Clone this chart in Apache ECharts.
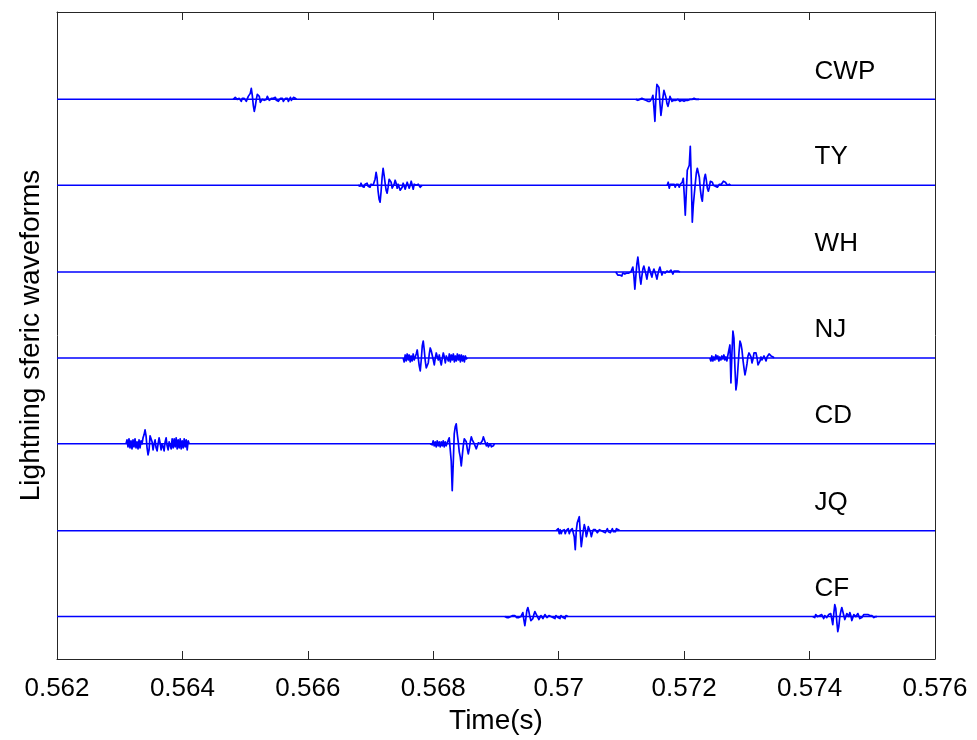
<!DOCTYPE html>
<html>
<head>
<meta charset="utf-8">
<script src="https://cdn.jsdelivr.net/npm/echarts@6/dist/echarts.min.js"></script>
<style>
  html, body { margin: 0; padding: 0; background: #fff; }
  #chart { width: 977px; height: 740px; }
</style>
</head>
<body>
<div id="chart"></div>
<script>
// Station names, top to bottom
const stations = ['CWP', 'TY', 'WH', 'NJ', 'CD', 'JQ', 'CF'];

// Time axis (s)
const timeMin = 0.562;
const timeMax = 0.576;
const timeStep = 0.002;

// Sample spacing of the recorded waveform bursts (s)
const sampleStep = 0.000016;

// Burst onset times (s) per station
const cwpOnsets = [0.56481, 0.57123];
const tyOnsets  = [0.56680, 0.57173];
const whOnsets  = [0.57091];
const njOnsets  = [0.56752, 0.57241];
const cdOnsets  = [0.56310, 0.56795];
const jqOnsets  = [0.56996];
const cfOnsets  = [0.56914, 0.57405];

// Burst amplitudes (relative units) per station
const cwpWave1 = [0,1,2,3,0,-1,1,0,-2,1,3,1,-1,-2,0,3,2,6,11,4,-6,-12,-7,0,5,7,3,-3,-4,0,1,-1,-3,0,3,1,-1,0,1,-1,1,0,2,-1,1,-2,0,1,-1,1,-2,0,1,-1,1,-2,0,2,-1,1,2,0,1,0];
const cwpWave2 = [0,1,-1,1,0,-1,1,-1,0,1,-1,0,-2,-1,-2,-1,1,4,-8,-22,2,15,14,12,-4,-16,-8,2,9,8,2,-4,-7,-3,3,2,-2,-4,-1,1,-1,-2,0,-1,-2,0,-1,1,-2,0,-1,1,-1,-2,0,1,0,2,1,2,0,1,0,0];
const tyWave1  = [0,1,-1,2,-1,1,-2,1,-1,2,-1,1,-2,1,-1,0,3,6,13,7,-6,-14,-17,-6,8,17,10,2,-5,-8,-2,6,8,3,-3,-5,1,5,2,-3,1,2,-5,-7,-2,2,0,-4,-2,3,1,-3,0,4,0,-4,1,3,0,-2,1,2,-2,0,0];
const tyWave2  = [0,3,-3,1,-1,1,-1,1,-2,1,-1,1,-2,1,0,3,7,-10,-30,-8,15,17,20,39,5,-37,-20,-9,2,12,17,19,8,-4,-12,-16,-4,7,11,5,-3,-6,-2,4,6,3,0,0,-1,-3,-2,0,1,2,1,3,4,2,3,1,0,1,1,0];
const whWave1  = [0,-1,-3,-1,-3,-2,-4,-1,-3,-2,-4,-1,-3,-1,-2,0,2,5,-3,-17,-4,8,15,6,-5,-12,-4,3,6,7,-2,-7,-1,5,2,-2,-5,0,3,1,-3,-7,-2,2,5,1,-3,0,2,-1,-3,1,3,0,-2,2,0,-2,1,-1,1,3,1,2,0];
const njWave1  = [0,-4,3,-3,4,-2,3,-4,2,-3,4,-2,1,4,8,0,-8,-13,-2,12,17,8,-3,-10,-12,-5,4,10,7,5,-2,-7,0,5,1,-2,3,-3,-7,0,5,1,-5,2,3,-3,4,-4,3,-2,4,-4,2,-3,4,-2,3,-4,3,-3,2,-4,2,-1,0];
const njWave2  = [0,-3,2,-3,1,-2,3,-1,2,-3,1,-2,2,-1,3,-2,1,-3,3,8,13,-25,5,27,20,-10,-32,-25,-10,5,17,14,8,-2,-10,-17,-12,-6,2,5,7,1,-5,-1,5,3,5,0,-7,-5,-3,1,-2,-1,2,0,-3,1,3,4,5,2,0,1,0];
const cdWave1  = [0,4,-3,5,-4,3,-5,4,-3,5,-4,2,-5,4,-4,3,0,6,9,14,8,-4,-11,-6,8,6,2,-6,0,4,-4,-7,0,6,1,-6,0,-3,-7,2,6,-2,-6,2,4,-5,5,-4,5,-3,6,-5,4,-4,5,-5,3,-4,5,-3,4,-6,3,0];
const cdWave2  = [0,2,-1,3,-2,2,-3,3,-2,2,-3,2,-2,3,-3,2,-2,1,3,6,8,-17,-47,-20,10,17,20,10,2,-8,-13,-22,-12,-2,5,7,2,-5,-10,-5,2,7,4,2,0,-2,-5,-2,1,3,0,-2,3,7,4,1,-2,1,-3,-1,0,-3,-5,-2,0];
const jqWave1  = [0,-2,2,-3,1,-3,0,-2,1,-3,0,-2,2,-3,0,-1,2,3,-6,-19,0,8,11,14,-2,-16,-8,0,6,2,-6,-2,4,2,-1,-6,-2,1,3,1,0,-2,0,1,3,0,-2,-1,1,-2,0,2,-1,1,-2,0,2,-1,1,-1,2,0,1,0];
const cfWave1  = [0,1,-1,1,-1,1,0,-1,1,-1,1,0,-1,1,-1,1,0,2,4,-3,-9,-2,6,9,5,0,-4,-6,-2,2,5,3,1,-1,-3,-1,1,-1,-2,0,2,1,-1,0,1,-1,0,2,-1,1,-2,1,2,-1,1,-2,1,2,-1,1,-2,1,0,0];
const cfWave2  = [0,1,-1,2,3,0,-1,1,-1,2,0,-2,1,2,-1,0,2,0,3,5,-8,3,12,8,-5,-15,-10,0,5,9,5,3,-3,-1,3,1,0,4,1,-4,-2,2,1,0,1,3,1,-2,-4,-1,1,2,3,2,3,2,1,1,2,1,0,-1,0,0,0];

const onsetsByStation = [cwpOnsets, tyOnsets, whOnsets, njOnsets, cdOnsets, jqOnsets, cfOnsets];
const wavesByStation = [
  [cwpWave1, cwpWave2],
  [tyWave1, tyWave2],
  [whWave1],
  [njWave1, njWave2],
  [cdWave1, cdWave2],
  [jqWave1],
  [cfWave1, cfWave2]
];

// Vertical layout: each trace sits on its own baseline
const yMin = 0, yMax = 648;
const bottomBase = 43;
const traceGap = 86.33;
const labelTime = 0.57408;
const labelRise = 28;

function baseOf(i) { return Math.round(bottomBase + traceGap * (stations.length - 1 - i)) - 0.5; }

// Quiet baseline across the whole window
function baselineData(i) {
  const base = baseOf(i);
  return [[timeMin, base], [timeMax, base]];
}

// Recorded bursts, separated by gaps so each burst is its own stroke
function burstData(i) {
  const base = baseOf(i);
  const pts = [];
  onsetsByStation[i].forEach((t0, b) => {
    if (b > 0) pts.push([null, null]);
    wavesByStation[i][b].forEach((a, k) => {
      pts.push([t0 + k * sampleStep, base + a]);
    });
  });
  return pts;
}

const traceStyle = { color: '#0000ff', width: 1.7, join: 'round' };
const series = [];
stations.forEach((name, i) => {
  series.push({
    type: 'line', data: baselineData(i), showSymbol: false, symbol: 'none',
    animation: false, silent: true, lineStyle: { color: '#0000ff', width: 1.5 }, z: 2
  });
  series.push({
    name: name, type: 'line', data: burstData(i), showSymbol: false, symbol: 'none',
    connectNulls: false, animation: false, silent: true, lineStyle: traceStyle, z: 3
  });
});

const fontFam = 'Liberation Sans, Arial, sans-serif';

series.push({
  type: 'scatter',
  symbolSize: 0,
  animation: false,
  silent: true,
  itemStyle: { opacity: 1 },
  data: stations.map((name, i) => ({ value: [labelTime, baseOf(i) + labelRise], name: name })),
  label: {
    show: true,
    position: 'right',
    distance: 0,
    formatter: p => p.name,
    color: '#000000',
    opacity: 1,
    fontFamily: fontFam,
    fontSize: 26
  },
  z: 5
});

const axisColor = '#262626';

const chart = echarts.init(document.getElementById('chart'), null, { renderer: 'canvas' });
chart.setOption({
  backgroundColor: '#ffffff',
  animation: false,
  grid: { left: 57, top: 12, width: 878, height: 648, containLabel: false },
  xAxis: [
    {
      type: 'value',
      min: timeMin, max: timeMax, interval: timeStep,
      name: 'Time(s)',
      nameLocation: 'middle',
      nameGap: 48,
      nameTextStyle: { color: '#000', fontSize: 28, fontFamily: fontFam },
      axisLine: { show: true, onZero: false, lineStyle: { color: axisColor, width: 1 } },
      axisTick: { show: true, inside: true, length: 8, lineStyle: { color: axisColor } },
      axisLabel: {
        color: '#000', fontSize: 26, fontFamily: fontFam, margin: 17,
        formatter: v => String(+v.toFixed(3))
      },
      splitLine: { show: false }
    },
    {
      type: 'value', position: 'top',
      min: timeMin, max: timeMax, interval: timeStep,
      axisLine: { show: true, onZero: false, lineStyle: { color: axisColor, width: 1 } },
      axisTick: { show: true, inside: true, length: 8, lineStyle: { color: axisColor } },
      axisLabel: { show: false },
      splitLine: { show: false }
    }
  ],
  yAxis: [
    {
      type: 'value', min: yMin, max: yMax,
      name: 'Lightning sferic waveforms',
      nameLocation: 'middle',
      nameGap: 12,
      nameRotate: 90,
      nameTextStyle: { color: '#000', fontSize: 28, fontFamily: fontFam },
      axisLine: { show: true, onZero: false, lineStyle: { color: axisColor, width: 1 } },
      axisTick: { show: false },
      axisLabel: { show: false },
      splitLine: { show: false }
    },
    {
      type: 'value', min: yMin, max: yMax, position: 'right',
      axisLine: { show: true, onZero: false, lineStyle: { color: axisColor, width: 1 } },
      axisTick: { show: false },
      axisLabel: { show: false },
      splitLine: { show: false }
    }
  ],
  series: series
});
</script>
</body>
</html>
